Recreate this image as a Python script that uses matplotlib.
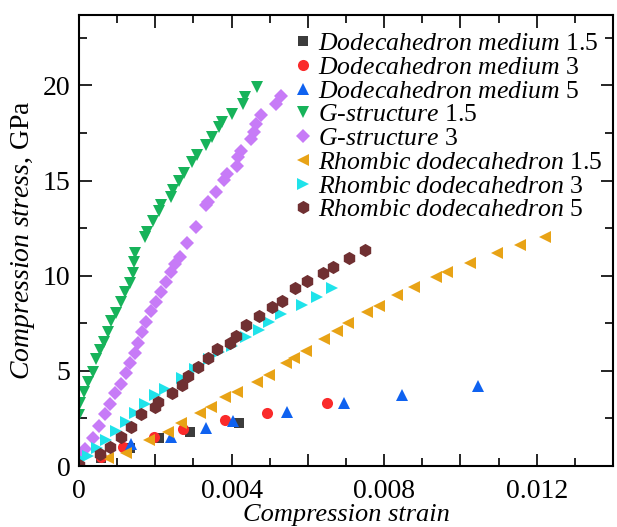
import matplotlib
matplotlib.use("Agg")
import matplotlib.pyplot as plt
from matplotlib.ticker import MultipleLocator, FuncFormatter

plt.rcParams['font.family'] = ['Liberation Serif', 'DejaVu Serif']
plt.rcParams['mathtext.fontset'] = 'custom'
plt.rcParams['mathtext.rm'] = 'Liberation Serif'
plt.rcParams['mathtext.it'] = 'Liberation Serif:italic'

# Dodecahedron medium 1.5
dm15_x = [0.00058, 0.00134, 0.0021, 0.0029, 0.0042]
dm15_y = [0.42, 0.95, 1.47, 1.79, 2.26]

# Dodecahedron medium 3
dm3_x = [0.00058, 0.00116, 0.00197, 0.00274, 0.00384, 0.00492, 0.0065]
dm3_y = [0.47, 1.0, 1.53, 1.95, 2.42, 2.79, 3.32]

# Dodecahedron medium 5
dm5_x = [0.00137, 0.0024, 0.00334, 0.00405, 0.00545, 0.00695, 0.00847, 0.01045]
dm5_y = [1.16, 1.53, 2.0, 2.37, 2.84, 3.32, 3.74, 4.21]

# G-structure 1.5
g15_x = [0.0, 0.00003, 0.00013, 0.00024, 0.00037, 0.00045, 0.00055, 0.00066,
         0.00076, 0.00084, 0.00097, 0.0011, 0.00121, 0.00134, 0.00142, 0.00145,
         0.00147, 0.00174, 0.00179, 0.00195, 0.0021, 0.00216, 0.0024, 0.00247,
         0.00263, 0.00276, 0.00295, 0.0031, 0.00334, 0.0035, 0.00366, 0.00376,
         0.004, 0.00429, 0.00434, 0.00466]
g15_y = [2.7, 3.3, 3.9, 4.4, 4.95, 5.6, 6.1, 6.5,
         7.05, 7.6, 8.05, 8.6, 9.15, 9.6, 10.15, 10.7,
         11.2, 12.05, 12.3, 12.85, 13.4, 13.7, 14.15, 14.5,
         15.0, 15.4, 16.0, 16.35, 16.85, 17.3, 17.8, 18.1,
         18.5, 19.05, 19.4, 19.9]

# G-structure 3
g3_x = [0.00003, 0.00016, 0.00037, 0.00053, 0.00068, 0.00082, 0.00095, 0.0011,
        0.00124, 0.00134, 0.00147, 0.00155, 0.00166, 0.00176, 0.00189, 0.00203,
        0.00216, 0.00229, 0.00242, 0.00253, 0.00266, 0.00282, 0.00308, 0.00332,
        0.00339, 0.00358, 0.00379, 0.00387, 0.00413, 0.00418, 0.00426, 0.0045,
        0.00458, 0.00463, 0.00476, 0.00516, 0.00529]
g3_y = [0.53, 0.89, 1.47, 2.11, 2.74, 3.26, 3.84, 4.32,
        4.89, 5.42, 5.95, 6.47, 7.05, 7.58, 8.16, 8.63,
        9.16, 9.68, 10.21, 10.63, 11.0, 11.74, 12.58, 13.74,
        13.89, 14.42, 15.05, 15.32, 15.74, 16.26, 16.58, 17.16,
        17.53, 17.95, 18.47, 19.0, 19.42]

# Rhombic dodecahedron 1.5
rd15_x = [0.00076, 0.00124, 0.00184, 0.00234, 0.00268, 0.00318, 0.00347, 0.00384,
          0.00413, 0.00466, 0.00497, 0.00542, 0.00563, 0.00595, 0.00642, 0.00676,
          0.00705, 0.00755, 0.00787, 0.00834, 0.00879, 0.00937, 0.00966, 0.01026,
          0.01095, 0.01155, 0.01221]
rd15_y = [0.42, 0.68, 1.37, 1.79, 2.26, 2.79, 3.11, 3.63,
          3.89, 4.42, 4.79, 5.42, 5.68, 6.05, 6.68, 7.11,
          7.53, 8.11, 8.42, 9.0, 9.42, 9.95, 10.21, 10.68,
          11.21, 11.63, 12.05]

# Rhombic dodecahedron 3
rd3_x = [0.00005, 0.00024, 0.00047, 0.00071, 0.00097, 0.00124, 0.00147, 0.00174,
         0.002, 0.00226, 0.00271, 0.00305, 0.00342, 0.00366, 0.004, 0.00437,
         0.00471, 0.00497, 0.00529, 0.00584, 0.00624, 0.00663]
rd3_y = [0.37, 0.53, 0.95, 1.37, 1.84, 2.32, 2.79, 3.26,
         3.74, 4.05, 4.63, 5.11, 5.63, 6.0, 6.32, 6.79,
         7.16, 7.58, 8.0, 8.47, 8.89, 9.37]

# Rhombic dodecahedron 5
rd5_x = [0.0, 0.00055, 0.00082, 0.0011, 0.00137, 0.00163, 0.002, 0.00208,
         0.00245, 0.00271, 0.00287, 0.00313, 0.00339, 0.00363, 0.00397, 0.00411,
         0.00437, 0.00471, 0.00505, 0.00532, 0.00566, 0.00597, 0.00639, 0.00666,
         0.00708, 0.0075]
rd5_y = [0.05, 0.63, 1.0, 1.53, 2.05, 2.74, 3.11, 3.37,
         3.84, 4.26, 4.74, 5.21, 5.68, 6.16, 6.47, 6.84,
         7.42, 7.89, 8.37, 8.68, 9.37, 9.74, 10.16, 10.47,
         10.95, 11.37]

series = [
    (dm15_x, dm15_y, 's', '#3c3c3c', 7, r'$\mathit{Dodecahedron\ medium}$ 1.5'),
    (dm3_x, dm3_y, 'o', '#fa2a2a', 8, r'$\mathit{Dodecahedron\ medium}$ 3'),
    (dm5_x, dm5_y, '^', '#0f62f0', 9, r'$\mathit{Dodecahedron\ medium}$ 5'),
    (g15_x, g15_y, 'v', '#17b35a', 9, r'$\mathit{G}$-$\mathit{structure}$ 1.5'),
    (g3_x, g3_y, 'D', '#c77bf7', 7.5, r'$\mathit{G}$-$\mathit{structure}$ 3'),
    (rd15_x, rd15_y, '<', '#e8a316', 9, r'$\mathit{Rhombic\ dodecahedron}$ 1.5'),
    (rd3_x, rd3_y, '>', '#1fe3ea', 9, r'$\mathit{Rhombic\ dodecahedron}$ 3'),
    (rd5_x, rd5_y, 'h', '#703032', 9.5, r'$\mathit{Rhombic\ dodecahedron}$ 5'),
]

fig = plt.figure(figsize=(6.17, 5.27), dpi=100)
ax = fig.add_axes([0.128, 0.1157, 0.8655, 0.8558])

for xs, ys, m, c, ms, lab in series:
    ax.plot(xs, ys, linestyle='none', marker=m, color=c, markersize=ms,
            markeredgewidth=0, label=lab)

ax.set_xlim(0, 0.014)
ax.set_ylim(0, 23.7)

ax.xaxis.set_major_locator(MultipleLocator(0.002))
ax.xaxis.set_minor_locator(MultipleLocator(0.001))
ax.yaxis.set_major_locator(MultipleLocator(5))
ax.yaxis.set_minor_locator(MultipleLocator(2.5))


def xfmt(v, pos):
    k = round(v / 0.002)
    if k % 2:
        return ''
    if k == 0:
        return '0'
    return '%g' % (k * 0.002)


ax.xaxis.set_major_formatter(FuncFormatter(xfmt))
ax.yaxis.set_major_formatter(FuncFormatter(lambda v, p: '%d' % v))

ax.tick_params(which='both', direction='in', top=True, right=True,
               labelsize=20, width=1.2)
ax.tick_params(axis='x', pad=9)
ax.tick_params(axis='y', pad=6)
ax.tick_params(which='major', length=9)
ax.tick_params(which='minor', length=6)
for sp in ax.spines.values():
    sp.set_linewidth(1.5)

ax.set_xlabel('Compression strain', fontsize=19, style='italic', labelpad=0)
ax.set_ylabel(r'$\mathit{Compression\ stress}$, GPa', fontsize=20, labelpad=4)

ax.legend(loc='upper right', bbox_to_anchor=(1.0, 0.985), fontsize=18.5,
          frameon=False, handletextpad=0.05, labelspacing=0.03,
          borderaxespad=0.2, handlelength=1.1, borderpad=0.2)

fig.savefig('out.png', dpi=100)
